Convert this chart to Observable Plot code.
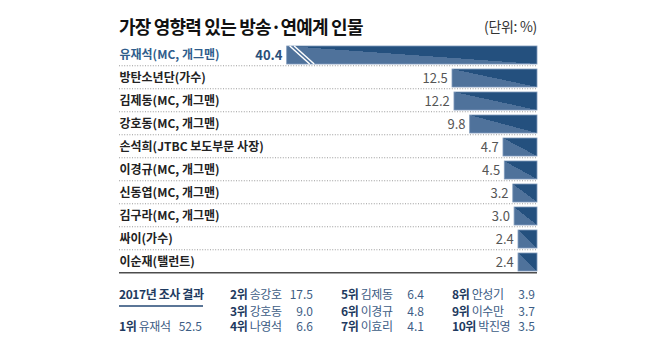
<!DOCTYPE html>
<html><head><meta charset="utf-8">
<script src="https://cdn.jsdelivr.net/npm/d3@7"></script>
<script src="https://cdn.jsdelivr.net/npm/@observablehq/plot@0.6"></script>
<style>
html,body{margin:0;padding:0;background:#fff;}
#wrap{position:relative;width:658px;height:340px;overflow:hidden;font-family:"Noto Sans CJK KR","Noto Sans",sans-serif;}
#title{position:absolute;left:119px;top:15px;font-size:18px;font-weight:700;color:#111;letter-spacing:-0.8px;line-height:22px;white-space:nowrap;}
#unit{position:absolute;right:121px;top:18px;font-size:14px;color:#333;line-height:16px;letter-spacing:-0.3px;}
#chart{position:absolute;left:0;top:36px;}
.t{position:absolute;font-size:12px;line-height:16px;white-space:nowrap;letter-spacing:-0.4px;}
.rk{font-weight:700;color:#1e3a60;}
.nm{color:#3d5d85;}
.vl{color:#3d5d85;text-align:right;letter-spacing:0;}
#prevtitle{position:absolute;left:119px;top:286px;font-size:12px;font-weight:700;color:#1e3a60;line-height:16px;letter-spacing:-0.4px;padding-bottom:3px;border-bottom:2px solid #5b7697;width:84px;white-space:nowrap;}
</style></head>
<body><div id="wrap">
<div id="title">가장 영향력 있는 방송·연예계 인물</div>
<div id="unit">(단위: %)</div>
<div id="chart"></div>
<div id="prevtitle">2017년 조사 결과</div>
</div>
<script>
const names = ["유재석(MC, 개그맨)", "방탄소년단(가수)", "김제동(MC, 개그맨)", "강호동(MC, 개그맨)", "손석희(JTBC 보도부문 사장)", "이경규(MC, 개그맨)", "신동엽(MC, 개그맨)", "김구라(MC, 개그맨)", "싸이(가수)", "이순재(탤런트)"];
const values = [40.4, 12.5, 12.2, 9.8, 4.7, 4.5, 3.2, 3.0, 2.4, 2.4];

const ranks2017 = ["1위", "2위", "3위", "4위", "5위", "6위", "7위", "8위", "9위", "10위"];
const names2017 = ["유재석", "송강호", "강호동", "나영석", "김제동", "이경규", "이효리", "안성기", "이수만", "박진영"];
const values2017 = [52.5, 17.5, 9.0, 6.6, 6.4, 4.8, 4.1, 3.9, 3.7, 3.5];

const data = names.map((n, i) => ({name: n, value: values[i], i}));
const top1 = data.slice(0, 1), rest = data.slice(1);
const fmt = d3.format(".1f");
const DARK = "#24507e", LIGHT = "#4f729b";

const defsMark = () => {
  const defs = d3.create("svg:defs");
  const g = defs.append("linearGradient").attr("id", "split")
    .attr("x1", 0).attr("y1", 1).attr("x2", 1).attr("y2", 0);
  g.append("stop").attr("offset", 0).attr("stop-color", LIGHT);
  g.append("stop").attr("offset", 0.5).attr("stop-color", LIGHT);
  g.append("stop").attr("offset", 0.5).attr("stop-color", DARK);
  g.append("stop").attr("offset", 1).attr("stop-color", DARK);
  return defs.node();
};

const breakMark = (index, scales) => {
  const x = scales.x, y = scales.y;
  const bw = y.bandwidth ? y.bandwidth() : 23.5;
  const left = x(x.domain()[1]) - 3.3;
  const top = y(names[0]) + 4, bottom = y(names[0]) + bw - 1;
  const g = d3.create("svg:g").attr("stroke", "#fff").attr("stroke-width", 1.5);
  for (const off of [3, 7.5]) {
    g.append("line").attr("x1", left + off).attr("y1", top)
      .attr("x2", left + off + 20).attr("y2", bottom);
  }
  return g.node();
};

const chart = Plot.plot({
  width: 658,
  height: 240,
  marginLeft: 119,
  marginRight: 121,
  marginTop: 3,
  marginBottom: 2,
  x: {domain: [0, 37.8], range: [537, 290], clamp: true, axis: null},
  y: {domain: names, padding: 0, axis: null},
  style: {fontFamily: "'Noto Sans CJK KR', sans-serif", background: "transparent"},
  marks: [
    defsMark,
    Plot.ruleY(names.slice(0, -1), {y: d => d, dy: 11.75, stroke: "#9a9a9a", strokeDasharray: "1 1.6", strokeWidth: 1}),
    Plot.ruleY(names.slice(-1), {y: d => d, dy: 11.75, stroke: "#4d4d4d", strokeWidth: 1.5}),
    Plot.barX(data, {x1: 0, x2: "value", y: "name", fill: "url(#split)", insetLeft: -3.3, insetTop: 4, insetBottom: 1, stroke: "#7f9abb", strokeWidth: 0.8}),
    breakMark,
    Plot.text(data, {y: "name", frameAnchor: "left", textAnchor: "start", text: "name",
      fontSize: 12, fontWeight: 700, fill: d => d.i === 0 ? "#2f5d8c" : "#222", dy: 1, letterSpacing: -0.5}),
    Plot.text(top1, {x: "value", y: "name", text: d => fmt(d.value), textAnchor: "end", dx: -8, dy: 1.5,
      fontSize: 13, fontWeight: 700, fill: "#2a4f7a"}),
    Plot.text(rest, {x: "value", y: "name", text: d => fmt(d.value), textAnchor: "end", dx: -8, dy: 1.5,
      fontSize: 13, fill: "#555", letterSpacing: -0.3})
  ]
});
document.getElementById("chart").appendChild(chart);

// 2017 table
const wrap = document.getElementById("wrap");
const colX = [119, 230, 341, 452];
const colR = [202, 313, 424, 535];
const rowY = [286, 302.5, 318];
ranks2017.forEach((r, i) => {
  const col = i === 0 ? 0 : Math.floor((i - 1) / 3) + 1;
  const row = i === 0 ? 2 : (i - 1) % 3;
  const a = document.createElement("div");
  a.className = "t";
  a.style.left = colX[col] + "px";
  a.style.top = rowY[row] + "px";
  a.innerHTML = `<span class="rk">${r}</span> <span class="nm">${names2017[i]}</span>`;
  wrap.appendChild(a);
  const v = document.createElement("div");
  v.className = "t vl";
  v.style.right = (658 - colR[col]) + "px";
  v.style.top = rowY[row] + "px";
  v.textContent = fmt(values2017[i]);
  wrap.appendChild(v);
});
</script>
</body></html>
